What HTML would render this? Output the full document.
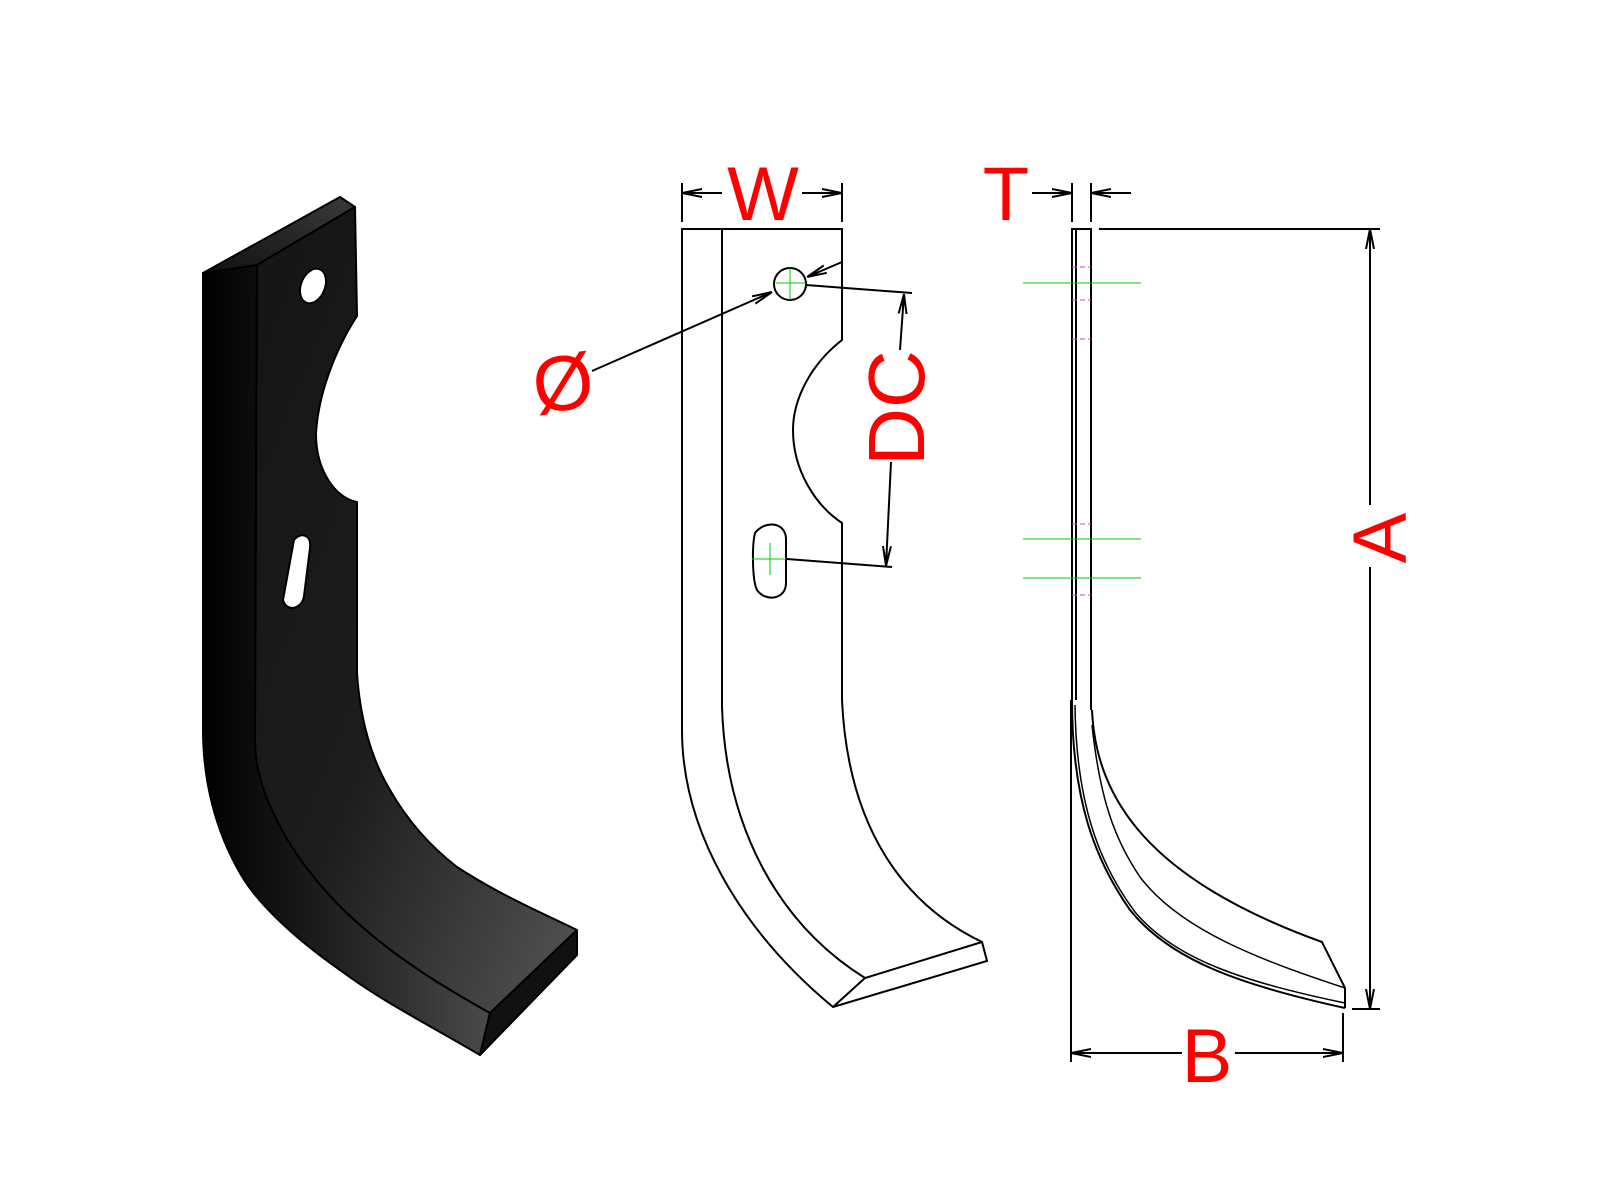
<!DOCTYPE html>
<html><head><meta charset="utf-8"><style>
html,body{margin:0;padding:0;background:#fff;}
svg{display:block;}
text{font-family:"Liberation Sans",Arial,sans-serif;fill:#ff0000;}
</style></head><body>
<svg width="1600" height="1200" viewBox="0 0 1600 1200" xmlns="http://www.w3.org/2000/svg">
<defs>
<linearGradient id="gf" x1="0" y1="0" x2="1" y2="1">
<stop offset="0" stop-color="#151515"/><stop offset="0.5" stop-color="#1c1c1c"/><stop offset="1" stop-color="#555"/></linearGradient>
<linearGradient id="gs" x1="0" y1="0" x2="1" y2="0">
<stop offset="0" stop-color="#000"/><stop offset="0.6" stop-color="#2a2a2a"/><stop offset="1" stop-color="#4a4a4a"/></linearGradient>
<linearGradient id="gt" x1="0" y1="1" x2="1" y2="0">
<stop offset="0" stop-color="#111"/><stop offset="1" stop-color="#3a3a3a"/></linearGradient>
<marker id="ar" viewBox="0 0 20 10" refX="20" refY="5" markerWidth="20" markerHeight="10" markerUnits="userSpaceOnUse" orient="auto">
<path d="M0,1 L20,5 L0,9 M20,5 L6,5" fill="none" stroke="#000" stroke-width="2"/></marker>
</defs>

<!-- 3D part -->
<g stroke="#000" stroke-width="2" stroke-linejoin="round">
<path d="M203,273 L257,265 L255,740 C255,760 260,785 272,810 C290,850 320,890 360,925 C400,960 440,985 490,1013 L480,1055 C420,1020 380,1000 340,970 C290,935 255,900 240,873 C215,830 203,780 203,730 Z" fill="url(#gs)"/>
<path d="M203,273 L340,197 L355,207 L257,265 Z" fill="url(#gt)"/>
<path d="M257,265 L355,207 L357,316 C335,350 318,395 316,434 C316,470 335,498 357,502 L357,673 C360,720 372,760 390,790 C410,825 435,850 457,867 C500,895 540,912 577,930 L490,1013 C440,985 400,960 360,925 C320,890 290,850 272,810 C260,785 255,760 255,740 Z" fill="url(#gf)"/>
<path d="M577,930 L577,955 L480,1055 L490,1013 Z" fill="#111"/>
<ellipse cx="313" cy="286" rx="12" ry="18" transform="rotate(22 313 286)" fill="#fff"/>
<path d="M294,540 C300,532 312,534 310,548 L304,596 C302,610 286,612 283,600 Z" fill="#fff"/>
</g>

<!-- middle front view -->
<g fill="none" stroke="#000" stroke-width="2">
<path d="M682,229 L842,229 L842,340 C810,365 793,400 793,430 C793,470 815,505 842,523 L842,700 C848,830 905,905 982,942 L987,961 L833,1007 C740,930 682,830 682,730 Z"/>
<path d="M722,229 L722,707 C726,830 780,925 865,978"/>
<path d="M833,1007 L865,978 L982,942"/>
<circle cx="790" cy="284" r="16"/>
<path d="M755,533 C765,520 785,522 786,538 L786,583 C786,600 765,602 757,590 C752,580 752,545 755,533 Z"/>
</g>
<g stroke="#00cc00" stroke-width="1"><line x1="776" y1="283" x2="806" y2="283"/><line x1="790" y1="268" x2="790" y2="300"/>
<line x1="752" y1="559" x2="786" y2="559"/><line x1="770" y1="543" x2="770" y2="575"/></g>
<g stroke="#000" stroke-width="2" fill="none">
<line x1="682" y1="183" x2="682" y2="222"/><line x1="842" y1="183" x2="842" y2="222"/>
<line x1="722" y1="193" x2="682" y2="193" marker-end="url(#ar)"/>
<line x1="802" y1="193" x2="842" y2="193" marker-end="url(#ar)"/>
<line x1="592" y1="371" x2="772" y2="292" marker-end="url(#ar)"/>
<line x1="842" y1="262" x2="807" y2="277" marker-end="url(#ar)"/>
<line x1="806" y1="285" x2="912" y2="293"/>
<line x1="787" y1="559" x2="892" y2="567"/>
<line x1="900" y1="350" x2="904" y2="294" marker-end="url(#ar)"/>
<line x1="891" y1="462" x2="886" y2="566" marker-end="url(#ar)"/>
</g>
<text x="763" y="220" font-size="76" text-anchor="middle">W</text>
<text x="0" y="0" font-size="80" text-anchor="middle" transform="translate(924,408) rotate(-90)">DC</text>
<text x="563" y="410" font-size="78" text-anchor="middle" transform="rotate(-8 563 383)">Ø</text>

<!-- side view -->
<g fill="none" stroke="#000" stroke-width="2">
<path d="M1072,700 L1072,229 L1091,229 L1091,710"/>
<line x1="1076" y1="229" x2="1076" y2="700"/>
<path d="M1072,700 C1072,800 1095,860 1130,910 C1170,960 1240,985 1345,1008"/>
<path d="M1075,705 C1076,805 1100,865 1135,912 C1175,960 1245,982 1345,1003" stroke-width="1.5"/>
<path d="M1092,710 C1096,800 1150,880 1322,942 L1345,988 L1345,1008"/>
<path d="M1092,725 C1100,800 1115,840 1140,877 C1180,930 1260,960 1345,988" stroke-width="1.5"/>
<line x1="1072" y1="183" x2="1072" y2="222"/><line x1="1091" y1="183" x2="1091" y2="222"/>
<line x1="1032" y1="193" x2="1072" y2="193" marker-end="url(#ar)"/>
<line x1="1131" y1="193" x2="1091" y2="193" marker-end="url(#ar)"/>
<line x1="1099" y1="229" x2="1380" y2="229"/>
<line x1="1352" y1="1009" x2="1380" y2="1009"/>
<line x1="1370" y1="505" x2="1370" y2="229" marker-end="url(#ar)"/>
<line x1="1370" y1="567" x2="1370" y2="1009" marker-end="url(#ar)"/>
<line x1="1071" y1="700" x2="1071" y2="1062"/>
<line x1="1343" y1="1013" x2="1343" y2="1062"/>
<line x1="1182" y1="1053" x2="1071" y2="1053" marker-end="url(#ar)"/>
<line x1="1235" y1="1053" x2="1343" y2="1053" marker-end="url(#ar)"/>
</g>
<g stroke="#00cc00" stroke-width="1">
<line x1="1023" y1="283" x2="1141" y2="283"/><line x1="1023" y1="539" x2="1141" y2="539"/><line x1="1023" y1="578" x2="1141" y2="578"/></g>
<g stroke="#cc44cc" stroke-width="1" stroke-dasharray="5,3">
<line x1="1072" y1="267" x2="1091" y2="267"/><line x1="1072" y1="300" x2="1091" y2="300"/><line x1="1072" y1="339" x2="1091" y2="339"/>
<line x1="1072" y1="524" x2="1091" y2="524"/><line x1="1072" y1="595" x2="1091" y2="595"/></g>
<text x="1006" y="220" font-size="76" text-anchor="middle">T</text>
<text x="0" y="0" font-size="76" text-anchor="middle" transform="translate(1406,538) rotate(-90)">A</text>
<text x="1207" y="1082" font-size="76" text-anchor="middle">B</text>
</svg>
</body></html>
